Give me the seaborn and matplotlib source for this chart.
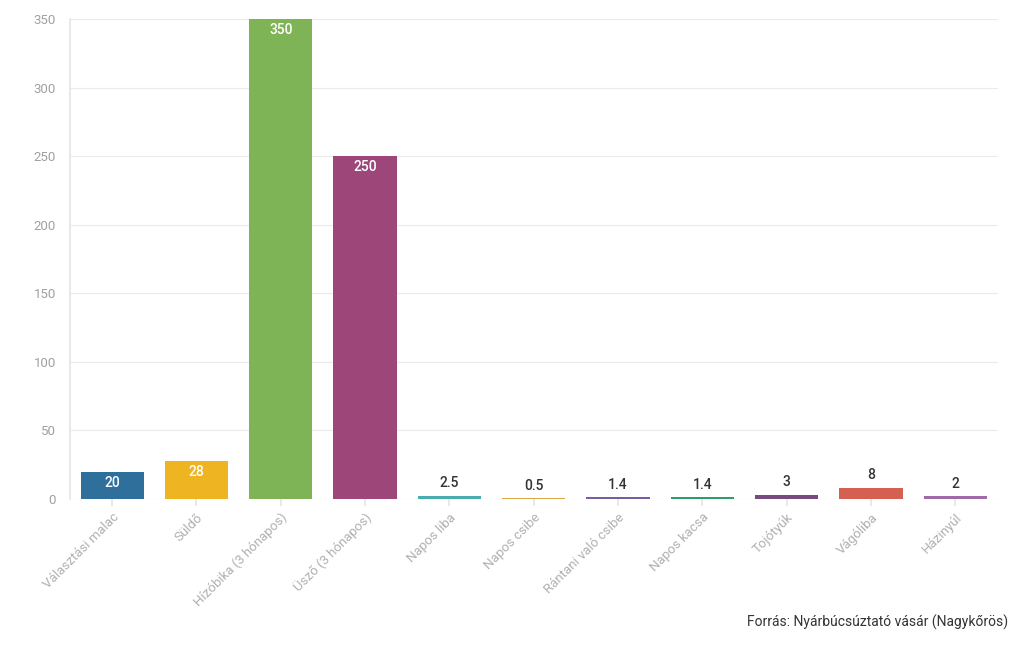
import pandas as pd
import seaborn as sns
import matplotlib.pyplot as plt

kategoriak = [
    "Választási malac", "Süldő", "Hízóbika (3 hónapos)", "Üsző (3 hónapos)",
    "Napos liba", "Napos csibe", "Rántani való csibe", "Napos kacsa",
    "Tojótyúk", "Vágóliba", "Házinyúl",
]
arak = [20, 28, 350, 250, 2.5, 0.5, 1.4, 1.4, 3, 8, 2]
cimkek = ["20", "28", "350", "250", "2.5", "0.5", "1.4", "1.4", "3", "8", "2"]
szinek = [
    "#2f6f9c", "#eeb422", "#7eb356", "#9c4679", "#4aadad", "#e0a44a",
    "#7a5ca0", "#2f9c6e", "#774a80", "#d36050", "#a06aa8",
]
yticks = [0, 50, 100, 150, 200, 250, 300, 350]

df = pd.DataFrame({"Kategória": kategoriak, "Ár": arak})

sns.set_theme(style="white")
plt.rcParams["font.family"] = ["Roboto", "DejaVu Sans"]

fig = plt.figure(figsize=(10.2, 6.5), dpi=100)
ax = fig.add_axes([0.0686, 0.2323, 0.9094, 0.7385])

sns.barplot(data=df, x="Kategória", y="Ár", hue="Kategória", palette=szinek,
            legend=False, width=0.75, saturation=1, linewidth=0, ax=ax)

ax.set_ylim(0, 350)
ax.set_yticks(yticks)
ax.set_xlim(-0.5, len(kategoriak) - 0.5)
ax.yaxis.grid(True, color="#ebebeb", linewidth=0.8)
ax.set_axisbelow(True)
for s in ["top", "right", "bottom"]:
    ax.spines[s].set_visible(False)
ax.spines["left"].set_color("#e6e6e6")
ax.axhline(0, color="#e0e0e0", linewidth=0.8, zorder=0)
ax.set_xlabel("")
ax.set_ylabel("")
ax.tick_params(axis="y", length=0, labelsize=9.5, labelcolor="#a0a0a0", pad=10)
ax.tick_params(axis="x", length=5, color="#e6e6e6", labelsize=9.5,
               labelcolor="#b0b0b0", bottom=True)
plt.setp(ax.get_xticklabels(), rotation=45, ha="right", rotation_mode="anchor")

for i, (v, t) in enumerate(zip(arak, cimkek)):
    if v >= 15:
        ax.annotate(t, (i, v), xytext=(0, -3), textcoords="offset points",
                    ha="center", va="top", color="white", fontsize=10,
                    fontweight="medium")
    else:
        ax.annotate(t, (i, v), xytext=(0, 4), textcoords="offset points",
                    ha="center", va="bottom", color="#333333", fontsize=10,
                    fontweight="medium")

fig.text(0.988, 0.03, "Forrás: Nyárbúcsúztató vásár (Nagykőrös)", ha="right",
         va="bottom", fontsize=10, color="#333333")

plt.savefig("out.png", dpi=100)
